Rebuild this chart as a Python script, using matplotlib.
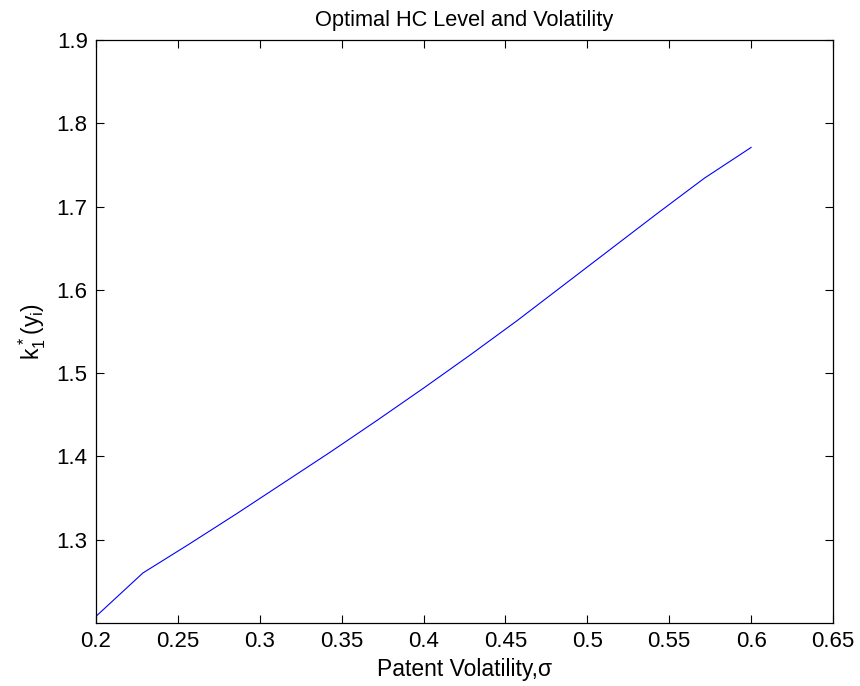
import matplotlib
matplotlib.use("Agg")
import matplotlib.pyplot as plt

sigma = [0.2, 0.2286, 0.2571, 0.2857, 0.3143, 0.3429, 0.3714, 0.4,
         0.4286, 0.4571, 0.4857, 0.5143, 0.5429, 0.5714, 0.6]
k1 = [1.208, 1.260, 1.295, 1.331, 1.368, 1.405, 1.443, 1.482,
      1.522, 1.563, 1.606, 1.649, 1.692, 1.734, 1.771]
xticks = [0.2, 0.25, 0.3, 0.35, 0.4, 0.45, 0.5, 0.55, 0.6, 0.65]
yticks = [1.3, 1.4, 1.5, 1.6, 1.7, 1.8, 1.9]

plt.rcParams['font.family'] = ['Liberation Sans', 'DejaVu Sans']
plt.rcParams['mathtext.fontset'] = 'custom'
plt.rcParams['mathtext.rm'] = 'Liberation Sans'
plt.rcParams['mathtext.it'] = 'Liberation Sans'
plt.rcParams['mathtext.bf'] = 'Liberation Sans:bold'

fig = plt.figure(figsize=(8.6, 6.86), dpi=100)
ax = fig.add_axes([96/860, 1-623/686, (833-96)/860, (623-40)/686])
ax.plot(sigma, k1, color='#0000ff', linewidth=0.8)
ax.set_xlim(0.2, 0.65)
ax.set_ylim(1.2, 1.9)
ax.set_xticks(xticks)
ax.set_xticklabels([f"{v:g}" for v in xticks])
ax.set_yticks(yticks)
ax.set_yticklabels([f"{v:g}" for v in yticks])
ax.tick_params(direction='in', length=5.5, width=0.8, top=True, right=True,
               labelsize=16, pad=6)
for s in ax.spines.values():
    s.set_linewidth(0.9)
ax.set_title('Optimal HC Level and Volatility', fontsize=15.7, pad=10)
ax.set_xlabel('Patent Volatility,σ', fontsize=16.5, labelpad=4)
ax.set_ylabel(r'$k_1^*(y_i)$', fontsize=16.5, labelpad=6)
fig.savefig('out.png', dpi=100)
